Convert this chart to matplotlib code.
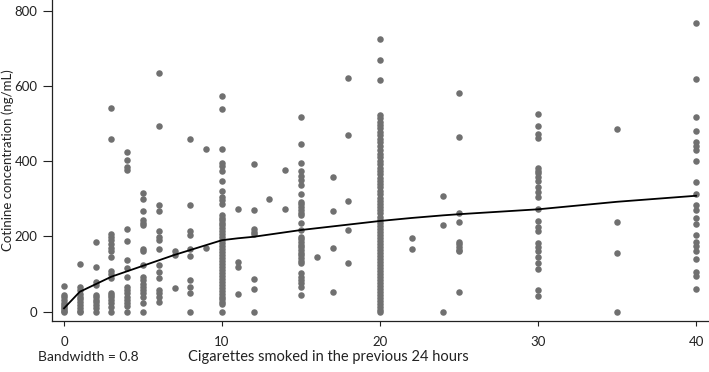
import matplotlib
matplotlib.use("Agg")
import matplotlib.pyplot as plt
import numpy as np

plt.rcParams["font.family"] = ["Lato", "DejaVu Sans"]

# cotinine values (ng/mL) read for each number of cigarettes smoked
cotinine = {
    0: [68, 45, 38, 30, 24, 18, 12, 6, 2, 0],
    1: [127, 66, 58, 47, 40, 33, 27, 18, 9, 3, 0],
    2: [185, 120, 80, 72, 44, 38, 32, 26, 18, 10, 0],
    3: [540, 460, 207, 199, 190, 180, 170, 162, 145, 109, 100, 90, 50, 44, 38, 31, 22, 13, 0],
    4: [423, 403, 384, 377, 221, 188, 137, 115, 91, 66, 58, 49, 38, 31, 22, 15, 0],
    5: [316, 300, 268, 244, 235, 229, 166, 160, 124, 93, 84, 74, 66, 58, 49, 40, 22, 0],
    6: [634, 492, 284, 267, 214, 198, 190, 167, 124, 105, 89, 58, 49, 38, 27],
    7: [160, 150, 64],
    8: [458, 284, 214, 205, 167, 149, 84, 65, 49, 0],
    9: [432, 170],
    10: [574, 539, 432, 394, 386, 375, 348, 321, 306, 297, 286, 257, 250, 243, 236,
         229, 222, 214, 206, 198, 190, 183, 175, 167, 159, 151, 143, 135, 127, 119,
         111, 103, 95, 87, 79, 71, 63, 55, 47, 40, 33, 25, 20, 0],
    11: [274, 133, 120, 47],
    12: [393, 270, 220, 213, 207, 86, 60, 0],
    13: [299],
    14: [377, 273],
    15: [518, 446, 394, 375, 361, 350, 337, 313, 292, 285, 278, 270, 262, 257, 235,
         217, 199, 192, 185, 178, 171, 164, 157, 150, 143, 136, 129, 102, 93, 84,
         75, 66, 44],
    16: [146],
    17: [357, 268, 170, 52],
    18: [622, 469, 295, 216, 130],
    20: [724, 669, 616, 523, 515, 505, 497, 488, 478, 470, 460, 450, 440, 430, 420,
         410, 400, 392, 383, 374, 366, 356, 347, 338, 330, 321, 312, 303, 295, 286,
         278, 270, 261, 252, 244, 236, 228, 220, 212, 204, 196, 188, 180, 172, 164,
         156, 148, 140, 132, 124, 116, 108, 100, 92, 84, 76, 68, 60, 52, 44, 36, 28,
         20, 12, 5, 0],
    22: [195, 166],
    24: [307, 229, 0],
    25: [580, 465, 263, 238, 186, 180, 172, 165, 160, 52],
    30: [525, 492, 472, 461, 381, 375, 368, 359, 348, 332, 318, 306, 272, 241, 226,
         214, 182, 172, 160, 146, 130, 113, 58, 42],
    35: [486, 237, 155, 0],
    40: [767, 618, 518, 479, 452, 440, 430, 400, 344, 312, 284, 270, 248, 233, 204,
         186, 175, 162, 140, 106, 95, 60],
}

# smoothed curve (bandwidth = 0.8)
smooth_x = [0, 1, 3, 5, 7, 9, 10, 11, 12, 14, 15, 20, 22, 24, 25, 30, 35, 40]
smooth_y = [9, 53, 93, 122, 151, 177, 190, 195, 199, 211, 217, 241, 249, 256, 259, 272, 292, 308]

x_ticks = [0, 10, 20, 30, 40]
y_ticks = [0, 200, 400, 600, 800]

xs = np.concatenate([[k] * len(v) for k, v in cotinine.items()])
ys = np.concatenate([v for v in cotinine.values()])

fig = plt.figure(figsize=(7.09, 3.72), dpi=100)
ax = fig.add_axes([52 / 709, 1 - 321 / 372, 1 - 52 / 709, 321 / 372])

ax.scatter(xs, ys, s=22, color="#707070", linewidths=0, zorder=2)
ax.plot(smooth_x, smooth_y, color="black", lw=1.3, zorder=3)

ax.set_xlim(-0.76, 40.82)
ax.set_ylim(-24.7, 828)
ax.set_xticks(x_ticks)
ax.set_yticks(y_ticks)

for side in ("top", "right"):
    ax.spines[side].set_visible(False)
for side in ("left", "bottom"):
    ax.spines[side].set_linewidth(0.9)
    ax.spines[side].set_color("#222222")

ax.tick_params(axis="y", length=6.5, width=0.8, pad=4, labelsize=9.5, colors="#222222")
ax.tick_params(axis="x", length=3.5, width=0.8, pad=7, labelsize=9.5, colors="#222222")

fig.text(8 / 709, 1 - 160 / 372, "Cotinine concentration (ng/mL)", rotation=90,
         ha="center", va="center", fontsize=9.5, color="#222222")
fig.text(38 / 709, 1 - 357 / 372, "Bandwidth = 0.8", ha="left", va="center",
         fontsize=10, color="#222222")
fig.text(188 / 709, 1 - 357 / 372, "Cigarettes smoked in the previous 24 hours",
         ha="left", va="center", fontsize=10.5, color="#222222")

fig.savefig("out.png", dpi=100)
